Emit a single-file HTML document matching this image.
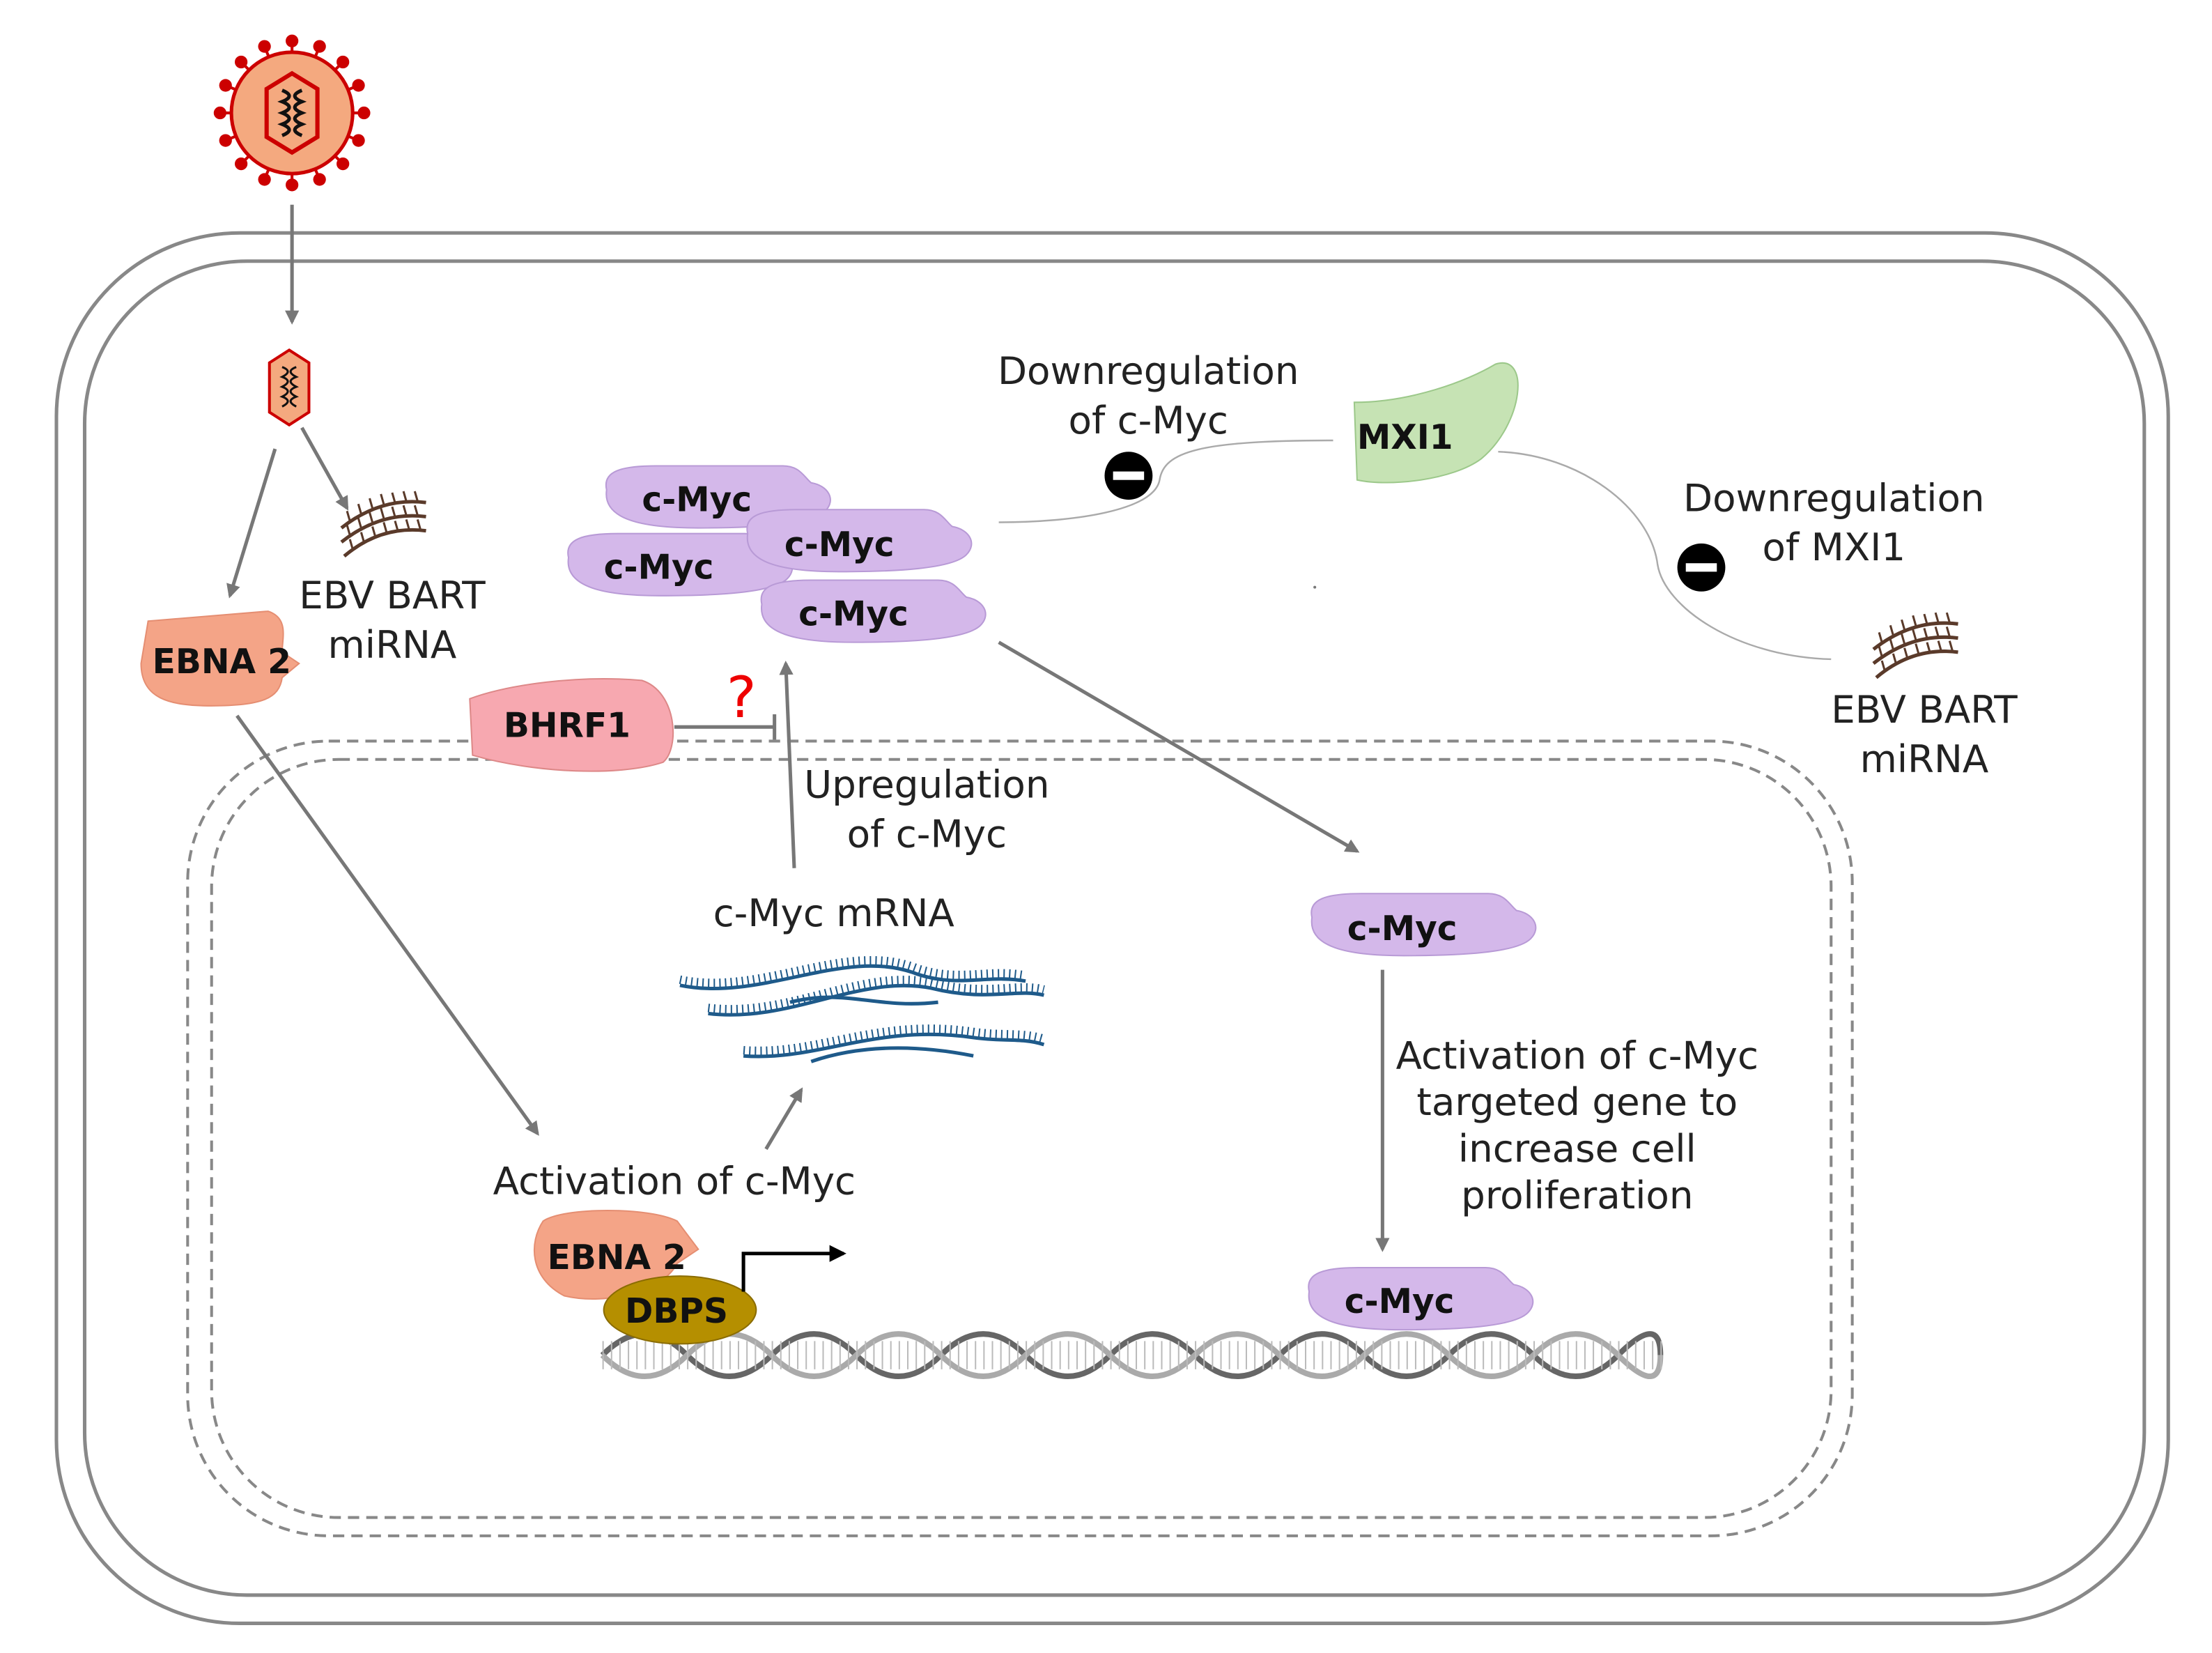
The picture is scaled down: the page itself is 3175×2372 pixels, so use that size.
<!DOCTYPE html>
<html><head><meta charset="utf-8"><style>
html,body{margin:0;padding:0;background:#fff;}
svg{display:block;}
text{font-family:"DejaVu Sans","Liberation Sans",sans-serif;}
.l{font-size:27px;fill:#222;}
.b{font-size:24px;font-weight:bold;fill:#111;}
</style></head><body>
<svg width="3175" height="2372" viewBox="0 0 1568 1171" preserveAspectRatio="none" xmlns="http://www.w3.org/2000/svg">
<defs>
<marker id="a" markerWidth="10" markerHeight="10" refX="8" refY="5" orient="auto" markerUnits="userSpaceOnUse"><path d="M0,0 L10,5 L0,10 Z" fill="#777"/></marker>
<marker id="ak" markerWidth="12" markerHeight="12" refX="10" refY="6" orient="auto" markerUnits="userSpaceOnUse"><path d="M0,0 L12,6 L0,12 Z" fill="#000"/></marker>
<g id="myc"><path d="M-75,-5 C-78,-18 -65,-22 -40,-22 L50,-22 C62,-22 65,-14 70,-10 C82,-8 88,2 80,10 C70,20 30,22 -10,22 C-50,22 -78,16 -75,-5 Z" fill="#d4b8ea" stroke="#b89ad6" stroke-width="1"/></g>
<g id="mirna" stroke="#5a3a2a" fill="none">
<path d="M0,14 Q28,-8 60,-4" stroke-width="2.5"/><path d="M0,24 Q28,2 60,6" stroke-width="2.5"/><path d="M2,34 Q28,12 60,16" stroke-width="2.5"/>
<path d="M6,9 l-2,-7 M14,4 l-2,-7 M22,0 l-2,-7 M30,-3 l-2,-7 M38,-4 l-2,-7 M46,-5 l-2,-7 M54,-5 l-2,-7" stroke-width="1.5"/>
<path d="M6,19 l-2,-7 M14,14 l-2,-7 M22,10 l-2,-7 M30,7 l-2,-7 M38,6 l-2,-7 M46,5 l-2,-7 M54,5 l-2,-7" stroke-width="1.5"/>
<path d="M8,29 l-2,-7 M16,24 l-2,-7 M24,20 l-2,-7 M32,17 l-2,-7 M40,16 l-2,-7 M48,15 l-2,-7 M56,15 l-2,-7" stroke-width="1.5"/>
</g>
</defs>
<rect x="40" y="165" width="1497" height="985" rx="130" fill="none" stroke="#888" stroke-width="2.5"/>
<rect x="60" y="185" width="1460" height="945" rx="115" fill="none" stroke="#888" stroke-width="2.5"/>
<rect x="133" y="525" width="1180" height="563" rx="100" fill="none" stroke="#888" stroke-width="2" stroke-dasharray="8,5"/>
<rect x="150" y="538" width="1148" height="537" rx="90" fill="none" stroke="#888" stroke-width="2" stroke-dasharray="8,5"/>
<g stroke="#c00" stroke-width="2">
<g id="spk">
<line x1="207" y1="80" x2="207" y2="30"/><circle cx="207" cy="29" r="3.5" fill="#c00"/>
</g>
<use href="#spk" transform="rotate(22.5 207 80)"/><use href="#spk" transform="rotate(45 207 80)"/><use href="#spk" transform="rotate(67.5 207 80)"/>
<use href="#spk" transform="rotate(90 207 80)"/><use href="#spk" transform="rotate(112.5 207 80)"/><use href="#spk" transform="rotate(135 207 80)"/><use href="#spk" transform="rotate(157.5 207 80)"/>
<use href="#spk" transform="rotate(180 207 80)"/><use href="#spk" transform="rotate(202.5 207 80)"/><use href="#spk" transform="rotate(225 207 80)"/><use href="#spk" transform="rotate(247.5 207 80)"/>
<use href="#spk" transform="rotate(270 207 80)"/><use href="#spk" transform="rotate(292.5 207 80)"/><use href="#spk" transform="rotate(315 207 80)"/><use href="#spk" transform="rotate(337.5 207 80)"/>
</g>
<circle cx="207" cy="80" r="43" fill="#f4a97f" stroke="#c00" stroke-width="2.5"/>
<polygon points="207,52 225,63 225,97 207,108 189,97 189,63" fill="#f4a97f" stroke="#c00" stroke-width="3"/>
<path d="M200,64 q10,4 0,8 q10,4 0,8 q10,4 0,8 q10,4 0,8 M214,64 q-10,4 0,8 q-10,4 0,8 q-10,4 0,8 q-10,4 0,8" stroke="#111" stroke-width="2.5" fill="none"/>
<polygon points="205,248 219,257 219,292 205,301 191,292 191,257" fill="#f4a97f" stroke="#c00" stroke-width="2"/>
<path d="M200,260 q8,3 0,7 q8,3 0,7 q8,3 0,7 q8,3 0,7 M210,260 q-8,3 0,7 q-8,3 0,7 q-8,3 0,7 q-8,3 0,7" stroke="#111" stroke-width="1.5" fill="none"/>
<g stroke="#777" stroke-width="2.5" fill="none">
<line x1="207" y1="145" x2="207" y2="228" marker-end="url(#a)"/>
<line x1="195" y1="318" x2="163" y2="422" marker-end="url(#a)"/>
<line x1="214" y1="303" x2="246" y2="360" marker-end="url(#a)"/>
<line x1="168" y1="507" x2="381" y2="803" marker-end="url(#a)"/>
<line x1="543" y1="814" x2="568" y2="772" marker-end="url(#a)"/>
<line x1="563" y1="615" x2="557" y2="470" marker-end="url(#a)"/>
<line x1="708" y1="455" x2="962" y2="603" marker-end="url(#a)"/>
<line x1="980" y1="687" x2="980" y2="885" marker-end="url(#a)"/>
<line x1="478" y1="515" x2="548" y2="515"/><line x1="549" y1="506" x2="549" y2="524"/>
</g>
<g stroke="#aaa" stroke-width="1.2" fill="none">
<path d="M945,312 C850,312 825,320 822,340 C818,362 760,370 708,370"/>
<path d="M1298,467 C1230,465 1180,430 1175,400 C1170,360 1120,322 1062,320"/>
</g>
<circle cx="800" cy="337" r="17" fill="#000"/><rect x="789" y="334" width="22" height="6" fill="#fff"/>
<circle cx="1206" cy="402" r="17" fill="#000"/><rect x="1195" y="399" width="22" height="6" fill="#fff"/>
<use href="#mirna" transform="translate(242,360)"/>
<use href="#mirna" transform="translate(1328,446)"/>
<path d="M105,440 L190,433 C205,438 200,452 200,462 L212,470 L200,480 C198,495 185,500 150,500 C120,500 100,495 100,470 Z" fill="#f4a487" stroke="#e58e72"/>
<text x="108" y="477" class="b">EBNA 2</text>
<path d="M333,495 C360,485 410,478 455,482 C480,490 482,530 470,540 C440,550 380,548 335,535 Z" fill="#f7a8b0" stroke="#d88"/>
<text x="357" y="522" class="b">BHRF1</text>
<path d="M960,285 C1000,285 1040,270 1060,258 C1085,250 1080,300 1050,325 C1030,340 985,345 962,340 Z" fill="#c6e3b4" stroke="#9cc88a"/>
<text x="962" y="318" class="b">MXI1</text>
<use href="#myc" transform="translate(505,352)"/><text x="455" y="362" class="b">c-Myc</text>
<use href="#myc" transform="translate(478,400)"/><text x="428" y="410" class="b">c-Myc</text>
<use href="#myc" transform="translate(605,383)"/><text x="556" y="394" class="b">c-Myc</text>
<use href="#myc" transform="translate(615,433)"/><text x="566" y="443" class="b">c-Myc</text>
<use href="#myc" transform="translate(1005,655)"/><text x="955" y="666" class="b">c-Myc</text>
<use href="#myc" transform="translate(1003,920)"/><text x="953" y="930" class="b">c-Myc</text>
<text x="515" y="508" font-size="40" fill="#e00" font-family="Liberation Sans">?</text>
<g stroke="#1e5a8a" stroke-width="2.5" fill="none">
<path d="M482,698 C540,710 600,670 650,690 C680,700 700,690 727,695"/>
<path d="M502,718 C560,725 610,690 660,700 C700,710 720,700 740,705"/>
<path d="M527,748 C580,752 620,725 690,735 C710,738 725,735 740,740"/>
<path d="M560,710 C600,700 620,715 665,710"/>
<path d="M575,752 C610,740 650,740 690,748"/>
</g>
<g stroke="#1e5a8a" stroke-width="6" stroke-dasharray="1,3" fill="none">
<path d="M482,694 C540,706 600,666 650,686 C680,696 700,686 727,691"/>
<path d="M502,714 C560,721 610,686 660,696 C700,706 720,696 740,701"/>
<path d="M527,744 C580,748 620,721 690,731 C710,734 725,731 740,736"/>
</g>
<g fill="none" stroke-width="4">
<path d="M427,955 q30,-30 60,0 t60,0 t60,0 t60,0 t60,0 t60,0 t60,0 t60,0 t60,0 t60,0 t60,0 t60,0 t30,0" stroke="#666" transform="translate(0,5)"/>
<path d="M427,955 q30,30 60,0 t60,0 t60,0 t60,0 t60,0 t60,0 t60,0 t60,0 t60,0 t60,0 t60,0 t60,0 t30,0" stroke="#aaa" transform="translate(0,5)"/>
</g>
<g stroke="#bbb" stroke-width="1.5" stroke-dasharray="1,5"><line x1="427" y1="960" x2="1180" y2="960" stroke-width="20"/></g>
<path d="M385,865 C400,855 460,855 480,865 L495,885 L480,895 C470,915 430,925 400,918 C375,905 375,880 385,865 Z" fill="#f4a487" stroke="#e58e72"/>
<text x="388" y="899" class="b">EBNA 2</text>
<ellipse cx="482" cy="928" rx="54" ry="24" fill="#b58f00" stroke="#8a6c00"/>
<text x="443" y="937" class="b">DBPS</text>
<path d="M527,915 L527,888 L598,888" stroke="#000" stroke-width="2.5" fill="none" marker-end="url(#ak)"/>
<text x="814" y="272" class="l" text-anchor="middle">Downregulation</text>
<text x="814" y="307" class="l" text-anchor="middle">of c-Myc</text>
<text x="1300" y="362" class="l" text-anchor="middle">Downregulation</text>
<text x="1300" y="397" class="l" text-anchor="middle">of MXI1</text>
<text x="278" y="431" class="l" text-anchor="middle">EBV BART</text>
<text x="278" y="466" class="l" text-anchor="middle">miRNA</text>
<text x="1364" y="512" class="l" text-anchor="middle">EBV BART</text>
<text x="1364" y="547" class="l" text-anchor="middle">miRNA</text>
<text x="657" y="565" class="l" text-anchor="middle">Upregulation</text>
<text x="657" y="600" class="l" text-anchor="middle">of c-Myc</text>
<text x="591" y="656" class="l" text-anchor="middle">c-Myc mRNA</text>
<text x="478" y="846" class="l" text-anchor="middle">Activation of c-Myc</text>
<text x="1118" y="757" class="l" text-anchor="middle">Activation of c-Myc</text>
<text x="1118" y="790" class="l" text-anchor="middle">targeted gene to</text>
<text x="1118" y="823" class="l" text-anchor="middle">increase cell</text>
<text x="1118" y="856" class="l" text-anchor="middle">proliferation</text>
<circle cx="932" cy="416" r="1" fill="#777"/>
</svg>
</body></html>
